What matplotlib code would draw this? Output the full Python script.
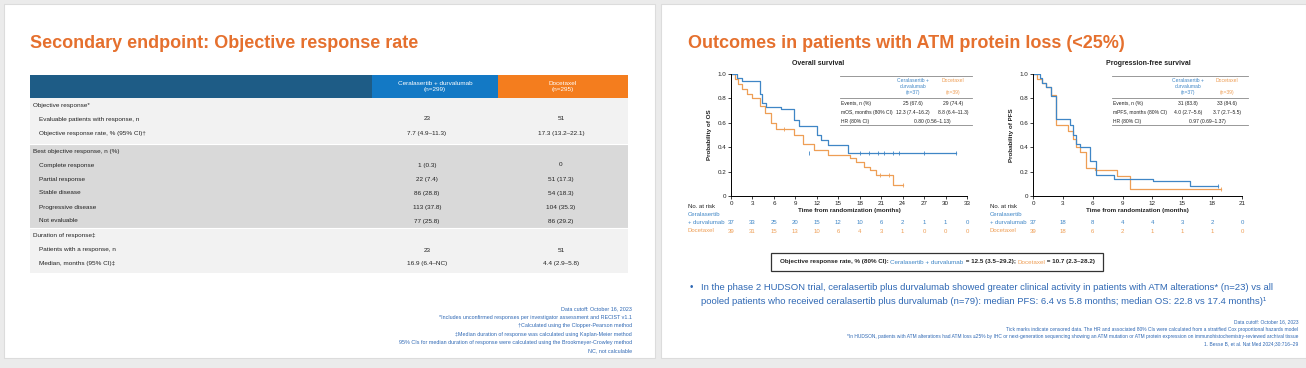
import matplotlib
matplotlib.use('Agg')
import matplotlib.pyplot as plt
from matplotlib.patches import Rectangle

plt.rcParams['font.family'] = ['Liberation Sans', 'DejaVu Sans']

W, H = 1306, 368
TITLE_OR = '#E5702E'
BLUE = '#3F86C6'
ORNG = '#EE9E55'
TXT_BLUE = '#2F68B4'
DARK = '#222222'

# ---- left slide: table data
arm_headers = ['Ceralasertib + durvalumab\n(n=299)', 'Docetaxel\n(n=295)']
obj_labels = ['Evaluable patients with response, n', 'Objective response rate, % (95% CI)\u2020']
obj_cer = ['23', '7.7 (4.9\u201311.3)']
obj_doc = ['51', '17.3 (13.2\u201322.1)']
bor_labels = ['Complete response', 'Partial response', 'Stable disease', 'Progressive disease', 'Not evaluable']
bor_cer = ['1 (0.3)', '22 (7.4)', '86 (28.8)', '113 (37.8)', '77 (25.8)']
bor_doc = ['0', '51 (17.3)', '54 (18.3)', '104 (35.3)', '86 (29.2)']
dor_labels = ['Patients with a response, n', 'Median, months (95% CI)\u2021']
dor_cer = ['23', '16.9 (6.4\u2013NC)']
dor_doc = ['51', '4.4 (2.9\u20135.8)']

left_notes = ['Data cutoff: October 16, 2023',
              '*Includes unconfirmed responses per investigator assessment and RECIST v1.1',
              '\u2020Calculated using the Clopper-Pearson method',
              '\u2021Median duration of response was calculated using Kaplan-Meier method',
              '95% CIs for median duration of response were calculated using the Brookmeyer-Crowley method',
              'NC, not calculable']

# ---- right slide: Kaplan-Meier data (months, survival probability)
os_cer_t = [0, 0.9, 1.6, 4.0, 4.3, 4.9, 7.0, 8.8, 9.5, 12.0, 12.6, 13.5, 16.3, 31.4]
os_cer_s = [1.0, 0.97, 0.94, 0.84, 0.76, 0.73, 0.71, 0.62, 0.57, 0.50, 0.46, 0.42, 0.35, 0.35]
os_cer_cens_t = [10.9, 18.1, 19.3, 20.5, 21.4, 22.6, 23.5, 27.0, 31.4]
os_doc_t = [0, 0.5, 1.0, 1.5, 2.2, 3.0, 4.0, 4.8, 5.6, 6.3, 8.8, 10.0, 11.6, 13.5, 16.7, 17.5,
            18.6, 19.5, 20.3, 22.6, 24.0]
os_doc_s = [1.0, 0.96, 0.92, 0.88, 0.84, 0.80, 0.74, 0.68, 0.60, 0.55, 0.50, 0.43, 0.38, 0.34,
            0.31, 0.28, 0.24, 0.21, 0.17, 0.09, 0.09]
os_doc_cens_t = [7.4, 20.9, 22.1, 24.0]
os_doc_cens_s = [0.55, 0.17, 0.17, 0.09]

pfs_cer_t = [0, 0.7, 0.9, 1.3, 1.8, 2.3, 3.7, 4.0, 4.3, 4.7, 5.7, 6.3, 8.1, 12.1, 15.8, 18.6]
pfs_cer_s = [1.0, 0.97, 0.93, 0.89, 0.82, 0.63, 0.58, 0.50, 0.43, 0.40, 0.29, 0.17, 0.14, 0.12, 0.08, 0.08]
pfs_doc_t = [0, 0.4, 0.9, 1.3, 1.8, 2.3, 3.5, 4.0, 4.3, 4.7, 5.3, 6.2, 8.4, 9.7, 18.9]
pfs_doc_s = [1.0, 0.96, 0.93, 0.89, 0.83, 0.58, 0.53, 0.47, 0.40, 0.36, 0.23, 0.21, 0.16, 0.06, 0.06]

os_ticks = [0, 3, 6, 9, 12, 15, 18, 21, 24, 27, 30, 33]
os_risk_cer = [37, 33, 25, 20, 15, 12, 10, 6, 2, 1, 1, 0]
os_risk_doc = [39, 31, 15, 13, 10, 6, 4, 3, 1, 0, 0, 0]
pfs_ticks = [0, 3, 6, 9, 12, 15, 18, 21]
pfs_risk_cer = [37, 18, 8, 4, 4, 3, 2, 0]
pfs_risk_doc = [39, 18, 6, 2, 1, 1, 1, 0]

os_inset = [('Events, n (%)', '25 (67.6)', '29 (74.4)'),
            ('mOS, months (80% CI)', '12.3 (7.4\u201316.2)', '8.8 (6.4\u201311.3)'),
            ('HR (80% CI)', '0.80 (0.56\u20131.13)', None)]
pfs_inset = [('Events, n (%)', '31 (83.8)', '33 (84.6)'),
             ('mPFS, months (80% CI)', '4.0 (2.7\u20135.6)', '3.7 (2.7\u20135.5)'),
             ('HR (80% CI)', '0.97 (0.69\u20131.37)', None)]

right_notes = ['Data cutoff: October 16, 2023',
               'Tick marks indicate censored data. The HR and associated 80% CIs were calculated from a stratified Cox proportional hazards model',
               '*In HUDSON, patients with ATM alterations had ATM loss \u226425% by IHC or next-generation sequencing showing an ATM mutation or ATM protein expression on immunohistochemistry-reviewed archival tissue',
               '1. Besse B, et al. Nat Med 2024;30:716\u201329']

fig = plt.figure(figsize=(W / 100, H / 100), dpi=100, facecolor='#ebebeb')
bg = fig.add_axes([0, 0, 1, 1])
bg.set_xlim(0, W)
bg.set_ylim(H, 0)
bg.axis('off')

bg.add_patch(Rectangle((4, 4), 651, 354, facecolor='white', edgecolor='#dcdcdc', lw=0.8))
bg.add_patch(Rectangle((661, 4), 645, 354, facecolor='white', edgecolor='#dcdcdc', lw=0.8))

# ---------------- left slide ----------------
bg.text(30, 43, 'Secondary endpoint: Objective response rate', color=TITLE_OR,
        fontsize=13, fontweight='bold', va='center', ha='left')

tx0, c1, c2, tx1 = 30, 372, 498, 628
bg.add_patch(Rectangle((tx0, 75), c1 - tx0, 23, color='#1E5C86', lw=0))
bg.add_patch(Rectangle((c1, 75), c2 - c1, 23, color='#1379C5', lw=0))
bg.add_patch(Rectangle((c2, 75), tx1 - c2, 23, color='#F47D1E', lw=0))
bg.text((c1 + c2) / 2, 86.5, arm_headers[0], color='white', fontsize=4.6, ha='center', va='center')
bg.text((c2 + tx1) / 2, 86.5, arm_headers[1], color='white', fontsize=4.6, ha='center', va='center')

bg.add_patch(Rectangle((tx0, 98), tx1 - tx0, 46, color='#F2F2F2', lw=0))
bg.add_patch(Rectangle((tx0, 144), tx1 - tx0, 84, color='#D9D9D9', lw=0))
bg.add_patch(Rectangle((tx0, 228), tx1 - tx0, 45, color='#F2F2F2', lw=0))
for yy in (144, 228):
    bg.plot([tx0, tx1], [yy, yy], color='white', lw=0.8)

xc1, xc2 = 427, 561
def section(y0, head, labels, v1, v2, step=14):
    bg.text(33, y0, head, fontsize=4.6, color=DARK, va='center')
    for i, (lab, a, b) in enumerate(zip(labels, v1, v2)):
        y = y0 + step * (i + 1)
        bg.text(39, y, lab, fontsize=4.6, color=DARK, va='center')
        bg.text(xc1, y, a, fontsize=4.6, color=DARK, va='center', ha='center')
        bg.text(xc2, y, b, fontsize=4.6, color=DARK, va='center', ha='center')

section(105, 'Objective response*', obj_labels, obj_cer, obj_doc)
section(151, 'Best objective response, n (%)', bor_labels, bor_cer, bor_doc)
section(236, 'Duration of response\u2021', dor_labels, dor_cer, dor_doc)

for i, line in enumerate(left_notes):
    bg.text(632, 309 + i * 8.4, line, fontsize=3.9, color=TXT_BLUE, ha='right', va='center')

# ---------------- right slide ----------------
bg.text(688, 43, 'Outcomes in patients with ATM protein loss (<25%)', color=TITLE_OR,
        fontsize=13, fontweight='bold', va='center', ha='left')


def km_axes(x0, x1, y0, y1):
    return fig.add_axes([x0 / W, 1 - y1 / H, (x1 - x0) / W, (y1 - y0) / H])


def draw_km(ax, curves, ticks, xmax, title, title_x, ylabel, inset, inset_x, risk_cer, risk_doc):
    for t, s, c in curves:
        ax.step(t, s, where='post', color=c, lw=0.9)
    ax.set_xlim(0, xmax)
    ax.set_ylim(0, 1.0)
    ax.set_xticks(ticks)
    ax.set_yticks([0, 0.2, 0.4, 0.6, 0.8, 1.0])
    ax.set_yticklabels(['0', '0.2', '0.4', '0.6', '0.8', '1.0'])
    ax.tick_params(labelsize=4.5, length=2, width=0.6, pad=1.5, colors=DARK)
    for sp in ('top', 'right'):
        ax.spines[sp].set_visible(False)
    for sp in ('left', 'bottom'):
        ax.spines[sp].set_linewidth(0.7)
    ax.set_facecolor('none')
    ax.text(title_x, 1.09, title, transform=ax.transAxes, fontsize=5, fontweight='bold',
            color=DARK, ha='center', va='center')
    ax.set_ylabel(ylabel, fontsize=4.5, fontweight='bold', labelpad=4, color=DARK)
    ax.set_xlabel('Time from randomization (months)', fontsize=4.5, fontweight='bold',
                  labelpad=1.5, color=DARK)
    # inset table
    xa, xb, xc, xd = inset_x
    tr = ax.transAxes
    kw = dict(transform=tr, clip_on=False, color='#888888', lw=0.6)
    ax.plot([xa, xd], [0.985, 0.985], **kw)
    ax.plot([xa, xd], [0.80, 0.80], **kw)
    ax.plot([xa, xd], [0.58, 0.58], **kw)
    ax.text(xb, 0.90, 'Ceralasertib +\ndurvalumab\n(n=37)', transform=tr, fontsize=3.6,
            color=BLUE, ha='center', va='center', linespacing=1.3)
    ax.text(xc, 0.90, 'Docetaxel\n\n(n=39)', transform=tr, fontsize=3.6,
            color=ORNG, ha='center', va='center', linespacing=1.3)
    for i, (lab, a, b) in enumerate(inset):
        y = 0.76 - i * 0.075
        ax.text(xa + 0.005, y, lab, transform=tr, fontsize=3.6, color=DARK, va='center')
        if b is None:
            ax.text((xb + xc) / 2, y, a, transform=tr, fontsize=3.6, color=DARK,
                    va='center', ha='center')
        else:
            ax.text(xb, y, a, transform=tr, fontsize=3.6, color=DARK, va='center', ha='center')
            ax.text(xc, y, b, transform=tr, fontsize=3.6, color=DARK, va='center', ha='center')
    # numbers at risk
    blend = ax.get_xaxis_transform()
    for tk, a, b in zip(ticks, risk_cer, risk_doc):
        ax.text(tk, -0.215, str(a), transform=blend, fontsize=4.3, color=BLUE, ha='center', va='center')
        ax.text(tk, -0.29, str(b), transform=blend, fontsize=4.3, color=ORNG, ha='center', va='center')


ax_os = km_axes(731, 967, 74, 196)
draw_km(ax_os, [(os_doc_t, os_doc_s, ORNG), (os_cer_t, os_cer_s, BLUE)], os_ticks, 33,
        'Overall survival', 0.37, 'Probability of OS', os_inset, (0.46, 0.77, 0.94, 1.02),
        os_risk_cer, os_risk_doc)
ax_os.plot(os_cer_cens_t, [0.35] * len(os_cer_cens_t), '|', color=BLUE, ms=2.5, mew=0.6, clip_on=False)
ax_os.plot(os_doc_cens_t, os_doc_cens_s, '|', color=ORNG, ms=2.5, mew=0.6, clip_on=False)

ax_pfs = km_axes(1033, 1242, 74, 196)
draw_km(ax_pfs, [(pfs_doc_t, pfs_doc_s, ORNG), (pfs_cer_t, pfs_cer_s, BLUE)], pfs_ticks, 21,
        'Progression-free survival', 0.55, 'Probability of PFS', pfs_inset, (0.38, 0.74, 0.93, 1.03),
        pfs_risk_cer, pfs_risk_doc)
ax_pfs.plot([18.6], [0.08], '|', color=BLUE, ms=2.5, mew=0.6, clip_on=False)
ax_pfs.plot([18.9], [0.06], '|', color=ORNG, ms=2.5, mew=0.6, clip_on=False)

for x0 in (688, 990):
    bg.text(x0, 206, 'No. at risk', fontsize=4.3, color=DARK, va='center')
    bg.text(x0, 214, 'Ceralasertib', fontsize=4.3, color=BLUE, va='center')
    bg.text(x0, 222, '+ durvalumab', fontsize=4.3, color=BLUE, va='center')
    bg.text(x0, 230, 'Docetaxel', fontsize=4.3, color=ORNG, va='center')

# ORR box
renderer = fig.canvas.get_renderer()
pieces = [('Objective response rate, % (80% CI): ', DARK), ('Ceralasertib + durvalumab', BLUE),
          (' = 12.5 (3.5\u201329.2); ', DARK), ('Docetaxel', ORNG), (' = 10.7 (2.3\u201328.2)', DARK)]
xp = 780
for s, c in pieces:
    t = bg.text(xp, 262, s, fontsize=4.5, color=c, va='center', fontweight='bold' if c == DARK else 'normal')
    xp += t.get_window_extent(renderer).width
bg.add_patch(Rectangle((771, 253), xp - 771 + 8, 18, facecolor='none', edgecolor='#333333', lw=0.9))

bg.text(690, 287, '\u2022', fontsize=7, color=TXT_BLUE, va='center')
bg.text(701, 287, 'In the phase 2 HUDSON trial, ceralasertib plus durvalumab showed greater clinical activity in patients with ATM alterations* (n=23) vs all',
        fontsize=6.8, color=TXT_BLUE, va='center')
bg.text(701, 301, 'pooled patients who received ceralasertib plus durvalumab (n=79): median PFS: 6.4 vs 5.8 months; median OS: 22.8 vs 17.4 months)\u00b9',
        fontsize=6.8, color=TXT_BLUE, va='center')

for i, line in enumerate(right_notes):
    bg.text(1298, 322 + i * 7.3, line, fontsize=3.5, color=TXT_BLUE, ha='right', va='center')

fig.savefig('out.png', dpi=100, facecolor=fig.get_facecolor())
